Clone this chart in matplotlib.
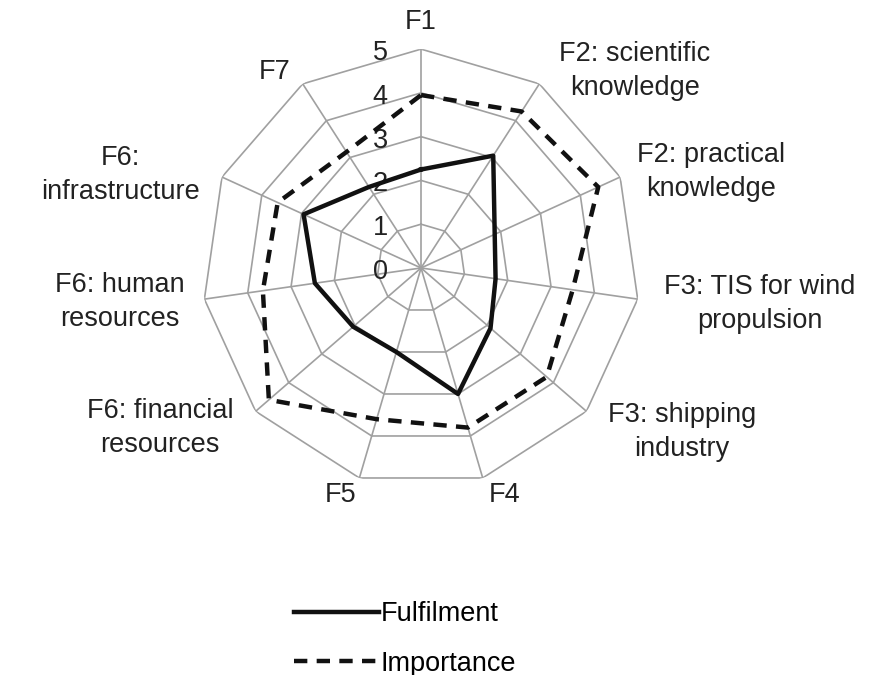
import numpy as np
import matplotlib
matplotlib.use("Agg")
import matplotlib.pyplot as plt

plt.rcParams['font.family'] = ['Liberation Sans', 'DejaVu Sans']

categories = ["F1", "F2: scientific\nknowledge", "F2: practical\nknowledge",
              "F3: TIS for wind\npropulsion", "F3: shipping\nindustry", "F4", "F5",
              "F6: financial\nresources", "F6: human\nresources", "F6:\ninfrastructure", "F7"]
fulfilment = [2.25, 3.05, 1.85, 1.72, 2.1, 3.0, 2.0, 2.05, 2.45, 2.95, 2.2]
importance = [3.95, 4.25, 4.45, 3.5, 3.8, 3.8, 3.6, 4.6, 3.65, 3.6, 3.15]
levels = [0, 1, 2, 3, 4, 5]

# where each category label sits (angle in degrees, radius in data units)
label_pos = [(0, 5.62), (47.4, 6.64), (71.7, 6.97), (96.1, 7.78), (122.1, 7.04),
             (159.7, 5.53), (199.6, 5.5), (238.5, 6.99), (263.6, 6.92), (287.2, 7.19),
             (323.3, 5.58)]

n = len(categories)
angles = np.linspace(0, 2 * np.pi, n, endpoint=False)
closed = np.concatenate([angles, angles[:1]])

fig = plt.figure(figsize=(8.79, 6.75), dpi=100)
ax = fig.add_axes([0.230, 0.2785, 0.498, 0.649], projection='polar')
ax.set_theta_offset(np.pi / 2)
ax.set_theta_direction(-1)
ax.set_ylim(0, 5)
ax.grid(False)
ax.spines['polar'].set_visible(False)
ax.set_xticks([])
ax.set_yticks([])
ax.patch.set_visible(False)

# polygon web
grid_col = '#a0a0a0'
for lv in levels[1:]:
    ax.plot(closed, [lv] * (n + 1), color=grid_col, lw=1.2, zorder=1)
for a in angles:
    ax.plot([a, a], [0, 5], color=grid_col, lw=1.2, zorder=1)

for lv in levels:
    ax.annotate(str(lv), xy=(0, lv), xytext=(-41, -4), textcoords='offset pixels',
                ha='center', va='center', fontsize=19.5, color='#222222')

ax.plot(closed, fulfilment + fulfilment[:1], color='#111111', lw=3.2, zorder=3,
        label='Fulfilment')
ax.plot(closed, importance + importance[:1], color='#111111', lw=3.2,
        linestyle=(0, (3.0, 2.1)), zorder=3, label='Importance')

for lab, (deg, r) in zip(categories, label_pos):
    ax.text(np.deg2rad(deg), r, lab, ha='center', va='center', fontsize=19.5,
            color='#222222', linespacing=1.38)

fig.legend(loc='center', bbox_to_anchor=(405 / 879, 1 - 639 / 675), frameon=False,
           fontsize=19.5, handlelength=3.15, handletextpad=0.05, labelspacing=0.85)

fig.savefig('out.png', dpi=100)
